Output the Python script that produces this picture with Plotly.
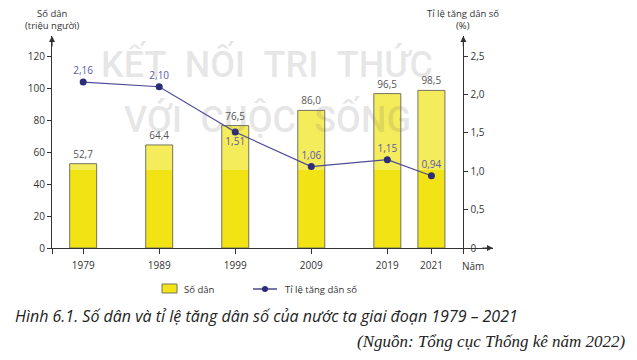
import plotly.graph_objects as go

# ---- data ----
years = ["1979", "1989", "1999", "2009", "2019", "2021"]
population = [52.7, 64.4, 76.5, 86.0, 96.5, 98.5]          # triệu người
growth_rate = [2.16, 2.10, 1.51, 1.06, 1.15, 0.94]        # %
left_ticks = [0, 20, 40, 60, 80, 100, 120]
right_ticks = [0, 0.5, 1.0, 1.5, 2.0, 2.5]
right_tick_text = ["0", "0,5", "1,0", "1,5", "2,0", "2,5"]

# ---- layout helpers (not data) ----
slot_pos = [0, 1, 2, 3, 4, 4.58]   # uneven spacing as in the original figure
X_MIN, X_MAX = -0.41, 5.39
RIGHT_AXIS_X = 5.0
Y_MAX = 132.5
RATIO = 48.0                         # left units per right unit
Y2_MAX = Y_MAX / RATIO
BAND = 48.75                         # level above which the watermark band lightens bars

OFF = 8                              # page body margin of the browser
W, H = 637 - OFF, 360 - OFF
L, T = 52 - OFF, 36 - OFF
PR, PB = 493 - OFF, 248 - OFF        # plot right / bottom edge
R, B = W - PR, H - PB
PW, PH = PR - L, PB - T


def px(xp):
    return (xp - OFF - L) / PW


def py(yp):
    return (PB - (yp - OFF)) / PH


def vn(v, d):
    return f"{v:.{d}f}".replace(".", ",")


BAR_COLOR = "#f2e414"
BAR_LIGHT = "#f5ec5c"
BAR_EDGE = "#74745e"
LINE_COLOR = "#4b4b98"
MARK_COLOR = "#2c2c78"
AX = "#333333"
FONT = "Open Sans, Noto Sans, sans-serif"
BW = 0.355

fig = go.Figure()

fig.add_trace(go.Bar(
    x=slot_pos, y=[min(p, BAND) for p in population], width=BW,
    marker=dict(color=BAR_COLOR, line=dict(width=0)),
    showlegend=False, hoverinfo="skip",
))
fig.add_trace(go.Bar(
    x=slot_pos, y=[max(p - BAND, 0) for p in population], base=BAND, width=BW,
    marker=dict(color=BAR_LIGHT, line=dict(width=0)),
    showlegend=False, hoverinfo="skip",
))
fig.add_trace(go.Bar(
    x=slot_pos, y=population, width=BW,
    marker=dict(color="rgba(0,0,0,0)", line=dict(color=BAR_EDGE, width=1)),
    text=[vn(v, 1) for v in population], textposition="outside",
    textfont=dict(size=10, color="#555555", family=FONT),
    cliponaxis=False, showlegend=False, name="Số dân",
))

label_pos = ["top center", "top center", "bottom center", "top center", "top center", "top center"]
fig.add_trace(go.Scatter(
    x=slot_pos, y=growth_rate, yaxis="y2", mode="lines+markers+text",
    line=dict(color=LINE_COLOR, width=1.2),
    marker=dict(color=MARK_COLOR, size=7),
    text=[vn(v, 2) for v in growth_rate], textposition=label_pos,
    textfont=dict(size=10, color="#5a5aa8", family=FONT),
    cliponaxis=False, showlegend=False, name="Tỉ lệ tăng dân số",
))

fig.update_layout(
    width=W, height=H, margin=dict(l=L, r=R, t=T, b=B, autoexpand=False),
    paper_bgcolor="white", plot_bgcolor="rgba(0,0,0,0)",
    font=dict(family=FONT, size=10, color=AX),
    barmode="overlay",
    xaxis=dict(
        range=[X_MIN, X_MAX], showgrid=False, zeroline=False,
        showline=True, linecolor=AX, linewidth=1.2,
        tickmode="array",
        tickvals=[X_MIN] + slot_pos + [RIGHT_AXIS_X],
        ticktext=[""] + years + [""],
        ticks="outside", ticklen=5, tickcolor=AX, tickwidth=1,
        ticklabelstandoff=3,
        tickfont=dict(size=10, color=AX),
    ),
    yaxis=dict(
        range=[0, Y_MAX], showgrid=False, zeroline=False,
        showline=True, linecolor=AX, linewidth=1.2,
        tickmode="array", tickvals=left_ticks,
        ticks="outside", ticklen=4, tickcolor=AX,
        tickfont=dict(size=10, color=AX),
    ),
    yaxis2=dict(
        range=[0, Y2_MAX], overlaying="y", side="right",
        anchor="free", position=(RIGHT_AXIS_X - X_MIN) / (X_MAX - X_MIN),
        showgrid=False, zeroline=False,
        showline=True, linecolor=AX, linewidth=1.2,
        tickmode="array", tickvals=right_ticks, ticktext=right_tick_text,
        ticks="outside", ticklen=4, tickcolor=AX,
        tickfont=dict(size=10, color=AX),
    ),
)


def note(xp, yp, text, size, xanchor="center", **font):
    fig.add_annotation(x=px(xp), y=py(yp), xref="paper", yref="paper", text=text,
                       showarrow=False, xanchor=xanchor, yanchor="middle", align="center",
                       font=dict(size=size, **font))


# watermark text
for words, yy in [(["KẾT", "NỐI", "TRI", "THỨC"], 64), (["VỚI", "CUỘC", "SỐNG"], 118)]:
    txt = "\u2002".join(words)
    note(267, yy, txt, 36, color="rgba(100,100,100,0.17)",
         family="Roboto, sans-serif", weight=500)

# axis arrows
arrow = dict(text="", showarrow=True, arrowhead=2, arrowsize=1, arrowwidth=1.2, arrowcolor=AX)
fig.add_annotation(x=X_MIN, y=Y_MAX, xref="x", yref="y", ax=0, ay=12, **arrow)
fig.add_annotation(x=RIGHT_AXIS_X, y=Y_MAX, xref="x", yref="y", ax=0, ay=12, **arrow)
fig.add_annotation(x=X_MAX, y=0, xref="x", yref="y", ax=-12, ay=0, **arrow)

# axis titles
note(52, 13.5, "Số dân", 9.5, color=AX)
note(52, 26, "(triệu người)", 9.5, color=AX)
note(463, 13, "Tỉ lệ tăng dân số", 9.5, color=AX)
note(463, 25.5, "(%)", 9.5, color=AX)
note(473, 266, "Năm", 10, color=AX)

# manual legend
fig.add_shape(type="rect", xref="paper", yref="paper",
              x0=px(162), x1=px(177), y0=py(293), y1=py(284),
              fillcolor=BAR_COLOR, line=dict(color=BAR_EDGE, width=1))
note(182, 289, "Số dân", 9.5, xanchor="left", color=AX)
fig.add_shape(type="line", xref="paper", yref="paper",
              x0=px(253), x1=px(277), y0=py(289), y1=py(289),
              line=dict(color=MARK_COLOR, width=1.3))
fig.add_shape(type="circle", xref="paper", yref="paper",
              x0=px(262), x1=px(268), y0=py(292), y1=py(286),
              fillcolor=MARK_COLOR, line=dict(width=0))
note(283, 289, "Tỉ lệ tăng dân số", 9.5, xanchor="left", color=AX)

# caption and source
note(13, 316, "Hình 6.1. Số dân và tỉ lệ tăng dân số của nước ta giai đoạn 1979 – 2021", 16,
     xanchor="left", color="#222222", style="italic", family=FONT)
note(628, 341, "(Nguồn: Tổng cục Thống kê năm 2022)", 17, xanchor="right",
     color="#222222", style="italic", family="Liberation Serif, DejaVu Serif, serif")

fig.write_html("out.html")
